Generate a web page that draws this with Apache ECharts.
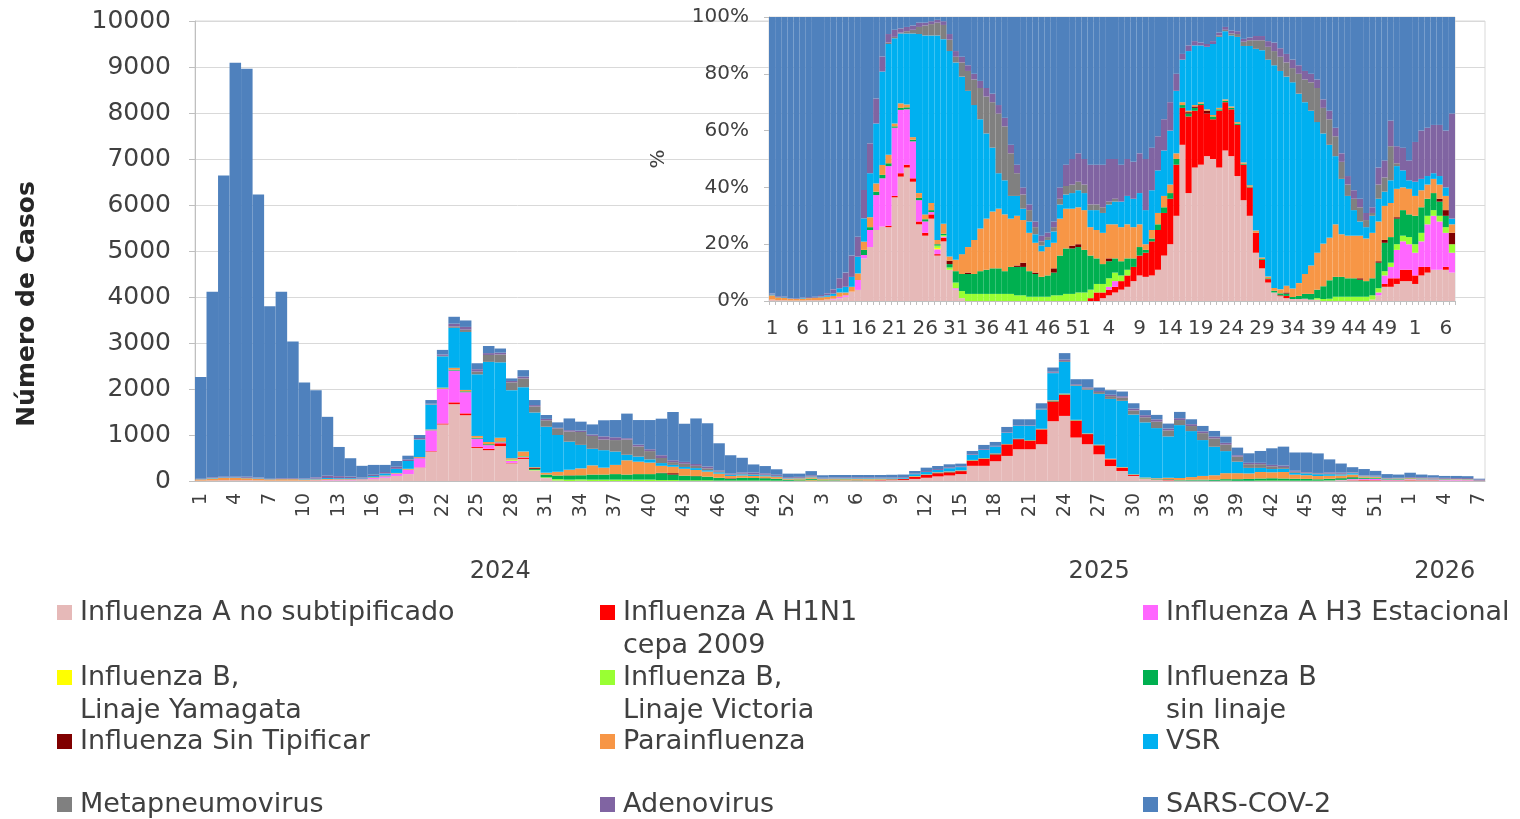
<!DOCTYPE html>
<html>
<head>
<meta charset="utf-8">
<script src="https://cdn.jsdelivr.net/npm/echarts@6/dist/echarts.min.js"></script>
<style>
  html, body { margin: 0; padding: 0; background: #fff; }
  #chart { width: 1520px; height: 819px; }
</style>
</head>
<body>
<div id="chart"></div>
<script>
(function () {
  'use strict';

  // epidemiological weeks per year shown on the axis
  var YEARS = ['2024', '2025', '2026'];
  var YEAR_WEEKS = [52, 53, 7];

  var Y_TICKS_MAIN = [0, 1000, 2000, 3000, 4000, 5000, 6000, 7000, 8000, 9000, 10000];
  var Y_TICKS_PCT = [0, 20, 40, 60, 80, 100];

  var NAMES = [
    'Influenza A no subtipificado',
    'Influenza A H1N1\ncepa 2009',
    'Influenza A H3 Estacional',
    'Influenza B,\nLinaje Yamagata',
    'Influenza B,\nLinaje Victoria',
    'Influenza B\nsin linaje',
    'Influenza Sin Tipificar',
    'Parainfluenza',
    'VSR',
    'Metapneumovirus',
    'Adenovirus',
    'SARS-COV-2'
  ];

  var COLORS = ['#e6b9b8', '#ff0000', '#ff66ff', '#ffff00', '#99ff33', '#00b050',
                '#800000', '#f79646', '#00b0f0', '#808080', '#8064a2', '#4f81bd'];

  // ---- main chart: weekly cases, 2024 w1 .. 2026 w7 (112 weeks) ----
  var infA = [
    10,15,20,20,20,15,10,10,10,10, 10,15,15,15,20,45,70,110,150,290,
    640,1230,1670,1430,720,670,760,385,480,230, 50,10,0,5,0,0,0,0,0,0,
    0,0,0,0,0,0,0,0,0,0, 0,0,0,5,3,5,8,10,12,15,
    20,22,45,70,100,120,150,330,330,430, 545,690,690,800,1300,1415,945,800,580,325,
    218,110,50,25,15,10,10,10,5,5, 0,0,0,0,0,0,0,0,8,15,
    15,12,12,10,10,15,15,15,12,12, 12,5
  ];
  var h1n1 = [
    0,0,0,0,0,0,0,0,0,0, 0,0,0,0,0,0,0,0,0,5,
    10,20,40,40,20,30,60,10,30,0, 0,0,0,0,0,0,0,0,0,0,
    0,0,0,0,0,0,0,0,0,0, 0,0,5,8,5,3,5,5,6,8,
    12,20,45,60,70,70,65,110,150,150, 250,215,185,320,430,460,365,220,195,145,
    70,20,0,5,10,0,0,0,0,0, 0,0,0,0,0,0,0,0,0,0,
    5,10,8,5,5,8,5,5,0,0, 2,0
  ];
  var h3 = [
    0,0,0,0,0,0,0,0,0,0, 5,10,10,10,10,20,30,50,90,200,
    450,750,690,460,180,80,20,40,10,0, 10,0,0,0,0,0,0,0,0,0,
    0,0,0,0,0,0,0,0,0,0, 0,0,0,0,0,2,3,0,0,0,
    0,0,0,0,0,0,0,0,0,0, 0,0,0,0,0,0,0,0,0,0,
    0,0,0,0,0,0,0,0,0,0, 0,0,0,0,0,0,0,0,0,5,
    20,20,25,15,15,15,15,15,18,18, 12,3
  ];
  var bYam = [
    0,0,0,0,0,0,0,0,0,0, 0,0,0,0,0,0,0,0,0,0,
    0,0,0,0,0,0,0,10,0,0, 0,0,0,0,0,0,0,0,0,0,
    0,0,0,0,0,0,0,0,0,0, 0,0,0,0,0,0,0,0,0,0,
    0,0,0,0,0,0,0,0,0,0, 0,0,0,0,0,0,0,0,0,0,
    0,0,0,0,0,0,0,0,0,0, 0,0,0,0,0,0,0,0,0,0,
    0,0,0,0,0,0,0,0,0,0, 0,0
  ];
  var bVic = [
    0,0,0,0,0,0,0,0,0,0, 0,0,0,0,0,0,0,0,0,0,
    0,0,0,0,0,0,0,10,10,10, 20,30,30,30,30,30,30,30,30,30,
    20,20,15,15,15,10,10,10,10,10, 8,5,8,12,8,5,5,3,4,0,
    0,0,3,0,0,0,0,0,0,0, 0,0,0,0,0,0,0,0,0,0,
    0,0,0,0,0,0,0,0,0,5, 5,5,10,10,10,8,8,8,5,5,
    5,5,5,3,3,5,3,2,3,3, 3,1
  ];
  var bSin = [
    0,0,0,0,0,0,0,0,0,0, 0,0,0,0,0,5,5,5,5,5,
    5,10,20,20,20,20,20,10,10,20, 60,80,90,90,110,110,120,110,120,120,
    150,120,100,90,80,60,40,60,55,50, 40,25,20,25,15,15,12,10,8,8,
    6,3,5,5,5,8,7,10,10,10, 5,0,10,5,10,10,10,5,5,0,
    5,5,10,10,10,10,15,20,20,30, 35,40,45,50,45,40,35,30,35,35,
    35,25,20,10,12,12,10,8,8,5, 4,0
  ];
  var sinTip = [
    0,0,0,0,0,0,0,0,0,0, 0,0,0,0,0,0,0,0,0,0,
    0,0,0,0,0,0,0,0,0,20, 0,0,5,0,0,0,0,0,0,0,
    10,30,0,5,0,0,10,0,0,3, 3,0,0,0,0,2,0,0,0,0,
    0,0,0,0,0,0,0,0,0,5, 0,10,0,0,0,0,0,0,0,0,
    0,0,0,0,5,0,0,0,0,0, 0,0,0,0,0,0,3,0,0,3,
    5,0,2,0,0,0,0,0,0,0, 2,2
  ];
  var parainf = [
    25,40,50,50,40,35,25,30,30,20, 20,20,15,15,10,12,15,10,20,20,
    15,20,40,30,40,50,80,30,100,20, 40,80,120,150,200,150,200,310,270,250,
    150,140,150,130,110,90,50,50,45,40, 35,22,25,30,15,18,18,20,20,18,
    10,5,10,10,15,10,10,8,8,5, 5,5,5,10,15,15,10,10,10,15,
    10,10,15,20,30,45,60,80,100,130, 130,120,140,130,140,90,80,70,65,55,
    55,30,20,10,12,10,10,8,6,5, 5,1
  ];
  var vsr = [
    5,10,10,10,10,10,5,5,10,10, 15,20,20,20,15,25,45,90,170,380,
    540,680,870,1260,1340,1740,1640,1480,1400,1190, 1000,800,610,510,360,380,290,120,110,70,
    60,40,40,40,30,30,20,25,25,22, 15,10,8,15,8,8,10,12,12,10,
    12,15,40,50,50,70,70,110,180,150, 240,277,312,420,590,690,740,950,1105,1300,
    1440,1300,1200,1090,900,1150,1000,780,620,480, 250,120,90,70,70,40,40,40,35,25,
    30,15,10,4,5,5,5,3,3,3, 3,1
  ];
  var metap = [
    0,0,0,0,0,0,0,0,0,0, 0,0,0,0,0,0,0,0,0,5,
    5,10,30,50,60,150,170,170,190,130, 140,145,220,280,280,230,250,330,220,180,
    110,60,70,50,40,20,10,15,15,12, 10,6,5,5,3,3,2,2,0,0,
    0,0,0,0,0,0,0,0,0,0, 0,0,0,5,10,20,15,30,40,60,
    70,90,110,140,130,110,110,150,180,140, 110,80,80,60,40,25,15,15,15,15,
    10,3,0,0,0,0,0,0,0,0, 0,0
  ];
  var adeno = [
    10,15,20,20,20,15,10,15,15,15, 30,50,45,35,20,30,30,45,35,30,
    15,30,60,60,50,40,40,30,40,30, 30,10,30,30,30,70,60,30,40,40,
    60,40,40,40,40,20,20,25,35,30, 25,17,19,25,15,15,17,18,18,16,
    15,15,15,20,20,20,15,15,16,14, 10,10,10,10,20,30,18,20,20,30,
    30,40,45,50,40,40,40,40,40,40, 30,30,30,30,30,20,15,12,25,24,
    10,10,15,10,8,15,18,19,18,18, 20,21
  ];
  var sars = [
    2210,4035,6540,8990,8870,6155,3750,4055,2970,2085, 1895,1280,635,400,255,213,155,125,80,65,
    80,100,150,140,130,155,90,55,140,110, 85,120,255,195,220,350,375,535,535,635,
    795,1050,830,990,940,590,400,320,175,158, 119,75,70,90,53,54,50,50,50,55,
    60,60,55,75,66,65,60,70,90,85, 120,135,130,120,92,140,110,178,77,99,
    102,115,110,97,108,137,107,117,123,135, 166,207,258,361,412,397,424,425,282,198,
    110,130,103,83,70,95,59,50,42,46, 42,16
  ];

  // ---- inset: share of each virus per week (%) ----
  var pInfA = [
    .5,.3,.3,.2,.2,.2,.3,.3,.3,.5, .5,1,1.5,3.3,3.9,15,19,25,26.2,26,
    36.5,43.8,47,42,27,23,29,16,21,11, 4,1,0,0,0,0,0,0,0,0,
    0,0,0,0,0,0,0,0,0,0, 0,0,0,0,1,2,3,4,5,7,
    9,8.5,9,11,16,20,30,55,38,47, 48,51,50,47,53,51,44,35.5,30,17,
    11.5,6.5,3,1.7,1,.7,.7,.8,.5,.5, 0,0,0,0,0,0,0,0,.5,2,
    5,5,6,7,7,6,9,10,11,11, 11,10
  ];
  var pH1n1 = [
    0,0,0,0,0,0,0,0,0,0, 0,0,0,0,0,0,0,0,0,.5,
    .5,1.2,1,1.2,1,1,1.5,.5,1.3,0, 0,0,0,0,0,0,0,0,0,0,
    0,0,0,0,0,0,0,0,0,0, 0,0,1,3,2,2,2,3,4,5,
    7,8.5,12,14,15,16,18,13,27,20, 21,15,14,20,17,16.5,18,12.5,10,7,
    3,1.2,0,.3,.8,0,0,0,0,0, 0,0,0,0,0,0,0,0,0,0,
    1,3,2,4,4,3,3,2,0,0, 1,0
  ];
  var pH3 = [
    0,0,0,0,0,0,0,0,0,0, .3,.5,.5,0,3.5,1.2,6,12.3,17,21,
    24,22.3,19.5,13,7.5,4,.8,1.7,.4,0, .5,0,0,0,0,0,0,0,0,0,
    0,0,0,0,0,0,0,0,0,0, 0,0,0,0,0,1,2,0,0,0,
    0,0,0,0,0,0,0,0,0,0, 0,0,0,0,0,0,0,0,0,0,
    0,0,0,0,0,0,0,0,0,0, 0,0,0,0,0,0,0,0,0,1,
    3,4,10,10,9,8,9,15,19,17, 12,7
  ];
  var pBYam = [
    0,0,0,0,0,0,0,0,0,0, 0,0,0,0,0,0,0,0,0,0,
    0,0,0,0,0,0,0,.5,0,0, 0,0,0,0,0,0,0,0,0,0,
    0,0,0,0,0,0,0,0,0,0, 0,0,0,0,0,0,0,0,0,0,
    0,0,0,0,0,0,0,0,0,0, 0,0,0,0,0,0,0,0,0,0,
    0,0,0,0,0,0,0,0,0,0, 0,0,0,0,0,0,0,0,0,0,
    0,0,0,0,0,0,0,0,0,0, 0,0
  ];
  var pBVic = [
    0,0,0,0,0,0,0,0,0,0, 0,0,0,0,0,0,0,0,0,0,
    0,0,0,0,0,0,0,.8,.5,.8, 2,2.5,2.5,2.5,2.5,2.5,2.5,2.5,2.5,2.5,
    2,2,1.5,1.5,1.5,1.5,2,2,2.5,2.5, 3,3,3,3,3,3,3,2,2,0,
    0,0,0,0,0,0,0,0,0,0, 0,0,0,0,0,0,0,0,0,0,
    0,0,0,0,0,0,0,0,0,.5, .7,.8,1.5,1.5,1.5,1.5,1.5,1.5,1.5,1.5,
    1.5,1.5,2,2,2.5,3,3,3,2,2, 2,3
  ];
  var pBSin = [
    0,0,0,0,0,0,0,0,0,0, 0,0,0,0,0,1.8,1,1.2,1.2,1,
    .5,.7,.7,.6,.8,.8,.7,.5,.5,1.2, 4,6,7,7,8,8.5,9,9,8,9.5,
    10,10,9,8,7,7.5,8,14,16,16, 16,15,12,9,7,6,5,5,4,3,
    3,1,1,2,2,2,2,1,1,1, .5,0,1,.5,.5,.5,.5,.3,.3,0,
    .3,.3,.6,.7,.8,.7,1.1,1.7,2,3, 4.5,6.5,7,7,6.5,6.5,6,5.5,6,9,
    10,9,9,9,8,10,9,6,6,5, 4,0
  ];
  var pSinTip = [
    0,0,0,0,0,0,0,0,0,0, 0,0,0,0,0,0,0,0,0,0,
    0,0,0,0,0,0,0,0,0,1.2, 0,0,.5,0,0,0,0,0,0,0,
    .5,1.5,0,.5,0,0,1.5,0,0,1, 1,0,0,0,0,1,0,0,0,0,
    0,0,0,0,0,0,0,0,.5,.5, 0,1,0,0,0,0,0,0,0,0,
    0,0,0,0,.4,0,0,0,0,0, 0,0,0,0,0,0,.5,0,0,.5,
    1,0,.5,0,0,0,0,0,0,1, 2,4
  ];
  var pParainf = [
    1.5,1,.8,.6,.5,.6,.7,.8,1,1, 1,1.5,1,1.7,2.3,2.9,3.5,2.9,3.5,3,
    1,1.6,1,.9,1.7,1.7,2.5,1.5,3.5,1.5, 4,7,9,12,15,18,20,21,20,17,
    17.5,15,13.5,10.5,9,10,9,13,14,13, 13,14,10,10,11,12,12,12,12,11,
    8,2,3,4,4,3,2,1,.5,.5, .5,.5,.5,.5,.5,.5,.5,.5,.5,.8,
    .5,.6,1,1.4,2.4,3,4.5,7,10,13, 15,15,18.5,15,15,15,15,15,16,14,
    12,12,10,8,9,7,6,5,5,5, 5,3
  ];
  var pVsr = [
    .3,.2,.2,.1,.1,.2,.1,.1,.3,.5, .8,1.5,2,3.5,5.9,8.2,15.5,21.1,32.9,39,
    30,24.6,25,36.5,56,63,59,72,65,72.3, 69.5,62.5,55,47.5,38.5,30,22.5,12.5,12,8,
    7,4,4,3,2,2.5,4,5,5,5.5, 6,6,6,7,7,7,8,9,10,10,
    11,12,14,15,16,19,22,15,21,21, 20,22,25,25,24,25,30,41,49,64,
    73,76.4,78.4,76.9,73.6,72.6,66.7,60.5,54.5,46, 38.8,32.7,24,19.5,14,9,5,4,6,8,
    5,8,8,6,3,5,4,3,2,3, 3,2
  ];
  var pMetap = [
    0,0,0,0,0,0,0,0,0,0, 0,0,0,0,0,0,0,0,0,.5,
    .5,.3,.8,1.3,2.5,3.5,4,4.5,5,4, 2,5,7,9,11,13,16,21,19,15,
    8,5,4,2.5,1.5,1,1.5,2,3,3, 3,3,2,2,2,1,1,0,0,0,
    0,0,0,0,0,0,0,0,0,0, 0,0,0,.5,.5,.7,1,1.5,2,3,
    3.5,4.5,5,5,5,5,7,8,10,12, 9,9,7,6,4,4,5,2.5,1,5,
    5,12,1,0,0,0,0,0,0,0, 0,0
  ];
  var pAdeno = [
    .3,.3,.3,.2,.2,.2,.3,.3,.5,.7, 1.5,3.5,5,7.5,7,10,10.5,8.8,5.3,3,
    2.5,1.5,1.5,1.5,1.5,1,1,1,1.3,2, 2,2,2,2,2.5,3,3,3,3,3,
    3,2.5,2,2,2,1.5,2,4,7.5,9, 10,9,14,14,15,15,14,13,13,13,
    14,18,15,12,11,10,6,2,2,1.5, 1,1,1,1,1,1,1,1,1,1.5,
    1.5,2,3,3,3,3,3,3,3,3, 3,3,3,3,3,3,3,2.5,2,6,
    6,9,6,8,7,14,17,17,17,18, 20,37
  ];
  var pSars = [
    97.4,98.2,98.4,98.9,99,98.8,98.6,98.5,97.9,97.3, 95.9,92,90,84,77.4,60.9,44.5,28.7,13.9,6,
    4.5,4,3.5,3,2,2,1.5,1,1.5,6, 12,14,17,20,22.5,25,27,31,35.5,45,
    52,60,66,72,77,76,72,60,52,50, 48,50,52,52,52,50,50,52,50,51,
    48,50,46,42,36,30,20,13,10,8.5, 9,9.5,8.5,5.5,3.5,4.8,5,7.7,7.2,6.7,
    6.7,8.5,9,11,13,15,17,19,20,22, 29,33,39,48,56,61,64,69,67,53,
    50.5,36.5,45.5,46,50.5,44,40,39,38,38, 40,34
  ];

  var DATA = [infA, h1n1, h3, bYam, bVic, bSin, sinTip, parainf, vsr, metap, adeno, sars];
  var PCT = [pInfA, pH1n1, pH3, pBYam, pBVic, pBSin, pSinTip, pParainf, pVsr, pMetap, pAdeno, pSars];

  var LEGEND_ROWS = [
    [NAMES[0], NAMES[1], NAMES[2]],
    [NAMES[3], NAMES[4], NAMES[5]],
    [NAMES[6], NAMES[7], NAMES[8]],
    [NAMES[9], NAMES[10], NAMES[11]]
  ];
  var LEGEND_TOPS = [563, 628, 725, 788];

  var FONT = 'DejaVu Sans';
  var TXT = '#404040';

  // category labels: week numbers, and the year centred under its weeks
  var weeks = [];
  var yearRow = [];
  YEARS.forEach(function (y, k) {
    var n = YEAR_WEEKS[k];
    for (var w = 1; w <= n; w++) {
      weeks.push(String(w));
      yearRow.push(w === Math.floor(n / 2) + 1 ? y : '');
    }
  });

  var series = [];
  DATA.forEach(function (arr, k) {
    series.push({
      type: 'bar', name: NAMES[k], stack: 'casos',
      xAxisIndex: 0, yAxisIndex: 0,
      data: arr, barCategoryGap: '0%',
      itemStyle: { color: COLORS[k] },
      emphasis: { disabled: true }
    });
  });
  PCT.forEach(function (arr, k) {
    series.push({
      type: 'bar', name: NAMES[k], stack: 'pct',
      xAxisIndex: 2, yAxisIndex: 1,
      data: arr, barCategoryGap: '0%',
      itemStyle: { color: COLORS[k] },
      emphasis: { disabled: true }
    });
  });

  var chart = echarts.init(document.getElementById('chart'), null, { renderer: 'canvas' });

  chart.setOption({
    backgroundColor: '#fff',
    animation: false,
    textStyle: { fontFamily: FONT },
    grid: [
      { left: 195, right: 35, top: 21, bottom: 338, containLabel: false,
        show: true, borderColor: '#d9d9d9', borderWidth: 1 },
      { left: 769, right: 65, top: 17, bottom: 518, containLabel: false,
        show: true, borderColor: '#d9d9d9', borderWidth: 1 }
    ],
    legend: LEGEND_ROWS.map(function (row, r) {
      return {
        data: row, left: 57, top: LEGEND_TOPS[r], width: 1700, orient: 'horizontal',
        padding: 0, itemGap: 0, itemWidth: 15, itemHeight: 15, icon: 'rect',
        selectedMode: false,
        textStyle: { fontFamily: FONT, fontSize: 27, color: TXT, width: 520, lineHeight: 33, padding: [0, 0, 0, 3] },
        formatter: function (name) { return name.indexOf('\n') >= 0 ? '\n' + name : name; }
      };
    }),
    xAxis: [
      {
        type: 'category', gridIndex: 0, data: weeks,
        axisLine: { lineStyle: { color: '#bfbfbf' } },
        axisTick: { show: false },
        axisLabel: { interval: 2, rotate: 90, margin: 12, fontSize: 19, color: TXT, fontFamily: FONT }
      },
      {
        type: 'category', gridIndex: 0, data: yearRow, position: 'bottom', offset: 71,
        axisLine: { show: false }, axisTick: { show: false },
        axisLabel: { interval: 0, margin: 8, fontSize: 24, color: TXT, fontFamily: FONT }
      },
      {
        type: 'category', gridIndex: 1, data: weeks,
        axisLine: { lineStyle: { color: '#bfbfbf' } },
        axisTick: { show: true, interval: 0, length: 4, lineStyle: { color: '#bfbfbf' } },
        axisLabel: { interval: 4, hideOverlap: false, margin: 18, fontSize: 20, color: TXT, fontFamily: FONT }
      }
    ],
    yAxis: [
      {
        type: 'value', gridIndex: 0,
        min: Y_TICKS_MAIN[0], max: Y_TICKS_MAIN[Y_TICKS_MAIN.length - 1], interval: Y_TICKS_MAIN[1] - Y_TICKS_MAIN[0],
        name: 'Número de Casos', nameLocation: 'middle', nameGap: 155, nameRotate: 90,
        nameTextStyle: { fontSize: 25, fontWeight: 'bold', color: '#262626', fontFamily: FONT, padding: [0, 106, 0, 0] },
        axisLine: { show: true, lineStyle: { color: '#bfbfbf' } },
        axisTick: { show: true, length: 6, lineStyle: { color: '#bfbfbf' } },
        axisLabel: { margin: 24, fontSize: 25, color: TXT, fontFamily: FONT, formatter: function (v) { return String(v); } },
        splitLine: { lineStyle: { color: '#d9d9d9' } }
      },
      {
        type: 'value', gridIndex: 1,
        min: Y_TICKS_PCT[0], max: Y_TICKS_PCT[Y_TICKS_PCT.length - 1], interval: Y_TICKS_PCT[1] - Y_TICKS_PCT[0],
        name: '%', nameLocation: 'middle', nameGap: 100, nameRotate: 90,
        nameTextStyle: { fontSize: 20, color: TXT, fontFamily: FONT },
        axisLine: { show: true, lineStyle: { color: '#bfbfbf' } },
        axisTick: { show: true, length: 5, lineStyle: { color: '#bfbfbf' } },
        axisLabel: { margin: 20, fontSize: 20, color: TXT, fontFamily: FONT, formatter: '{value}%' },
        splitLine: { show: false }
      }
    ],
    series: series
  });
})();
</script>
</body>
</html>
